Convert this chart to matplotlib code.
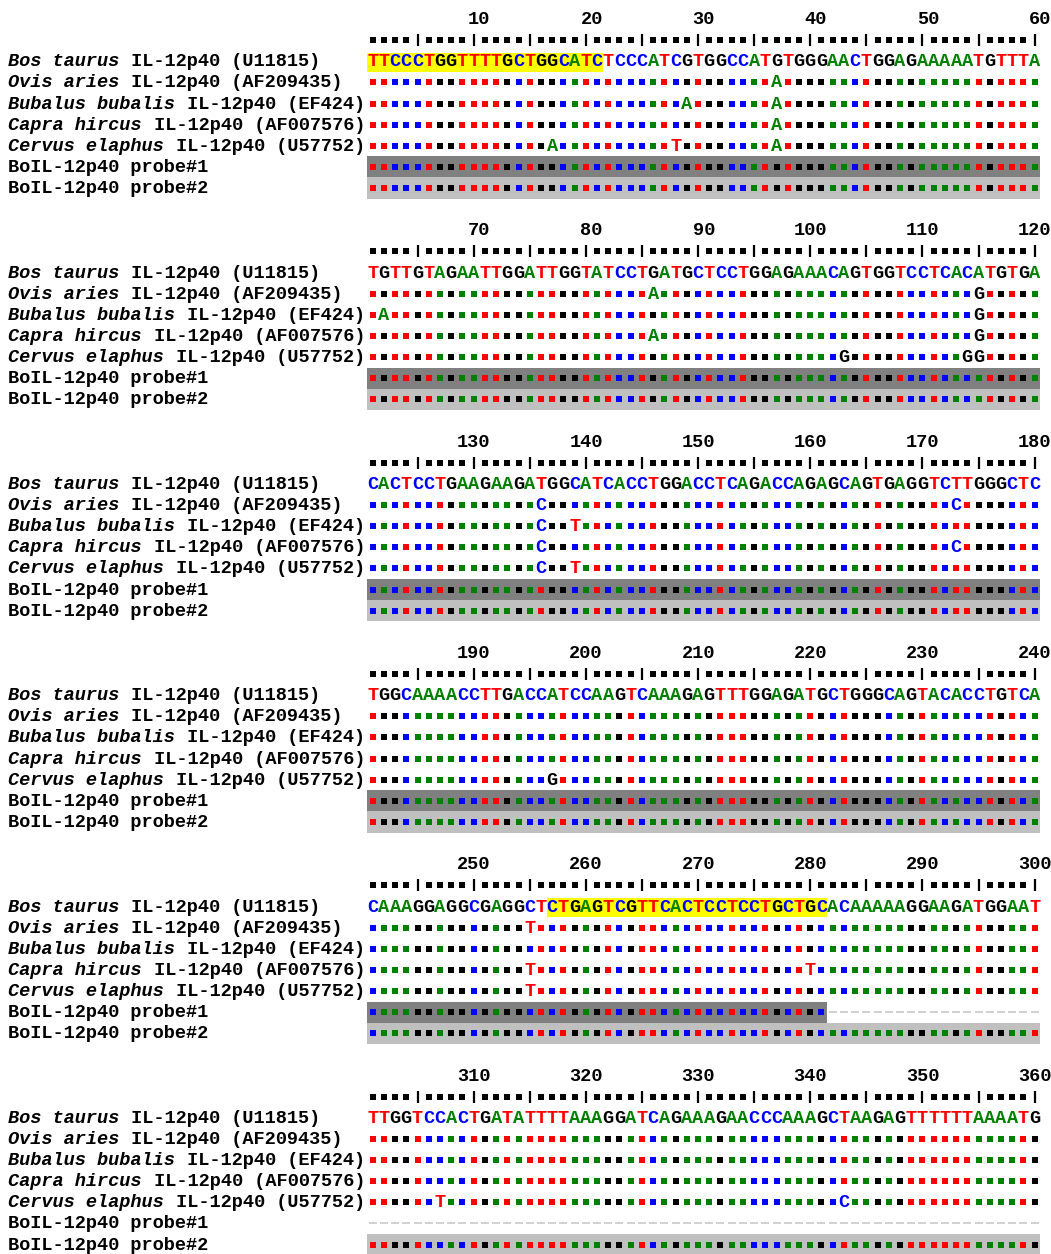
import matplotlib
matplotlib.use('Agg')
import matplotlib.pyplot as plt
from matplotlib.patches import Rectangle

# reference sequence, one string per 60 nt block
BOS_TAURUS = [
    'TTCCCTGGTTTTGCTGGCATCTCCCATCGTGGCCATGTGGGAACTGGAGAAAAATGTTTA',
    'TGTTGTAGAATTGGATTGGTATCCTGATGCTCCTGGAGAAACAGTGGTCCTCACATGTGA',
    'CACTCCTGAAGAAGATGGCATCACCTGGACCTCAGACCAGAGCAGTGAGGTCTTGGGCTC',
    'TGGCAAAACCTTGACCATCCAAGTCAAAGAGTTTGGAGATGCTGGGCAGTACACCTGTCA',
    'CAAAGGAGGCGAGGCTCTGAGTCGTTCACTCCTCCTGCTGCACAAAAAGGAAGATGGAAT',
    'TTGGTCCACTGATATTTTAAAGGATCAGAAAGAACCCAAAGCTAAGAGTTTTTTAAAATG',
]

# differences from Bos taurus (1-based position -> base)
OVIS_DIFF = {37: 'A', 86: 'A', 115: 'G', 136: 'C', 173: 'C', 255: 'T'}
BUBALUS_DIFF = {29: 'A', 37: 'A', 62: 'A', 115: 'G', 136: 'C', 139: 'T'}
CAPRA_DIFF = {37: 'A', 86: 'A', 115: 'G', 136: 'C', 173: 'C', 255: 'T', 280: 'T'}
CERVUS_DIFF = {17: 'A', 28: 'T', 37: 'A', 103: 'G', 114: 'G', 115: 'G',
               136: 'C', 139: 'T', 197: 'G', 255: 'T', 307: 'T', 343: 'C'}

# probe coverage (last covered position) and primer highlights
PROBE1_END = 281
PROBE2_END = 360
HIGHLIGHTS = [(1, 21), (257, 281)]

SPECIES = ['Bos taurus', 'Ovis aries', 'Bubalus bubalis', 'Capra hircus', 'Cervus elaphus']
ACCESSIONS = ['U11815', 'AF209435', 'EF424', 'AF007576', 'U57752']
PROBE_LABELS = ['BoIL-12p40 probe#1', 'BoIL-12p40 probe#2']

BASE_COLORS = {'A': '#008000', 'C': '#0000ff', 'G': '#000000', 'T': '#ff0000'}
FONT = dict(family='Liberation Mono', weight='bold', size=13.46)

CW = 11.22      # px per character column
LH = 21.13      # px per text line
X0, Y0 = 8, 19.0
W, H = 1051, 1254
SEQ_COL = 32
BASE_OFF = 0.24  # baseline below line centre, in lines

fig = plt.figure(figsize=(W / 100, H / 100), dpi=100)
ax = fig.add_axes([0, 0, 1, 1])
ax.set_xlim(-X0 / CW, (W - X0) / CW)
ax.set_ylim((H - Y0) / LH, -Y0 / LH)
ax.axis('off')

squares = {c: ([], []) for c in list(BASE_COLORS.values())}
ticks_x, ticks_y = [], []
dash_x, dash_y = [], []

diffs = [OVIS_DIFF, BUBALUS_DIFF, CAPRA_DIFF, CERVUS_DIFF]


def add_square(x, y, color):
    squares[color][0].append(x)
    squares[color][1].append(y)


def put_char(x, y, ch, color):
    ax.text(x, y + BASE_OFF, ch, color=color, ha='center', va='baseline', zorder=4, **FONT)


for b, seq in enumerate(BOS_TAURUS):
    L = 10 * b
    start = 60 * b

    # ruler numbers and ticks
    for k in range(1, 7):
        c = SEQ_COL + 10 * k - 1
        ax.text(c + 2, L + BASE_OFF, str(start + 10 * k), ha='right', va='baseline',
                color='k', zorder=4, **FONT)
    for i in range(60):
        x = SEQ_COL + i + 0.5
        if (i + 1) % 5 == 0:
            ticks_x.append(x)
            ticks_y.append(L + 1)
        else:
            add_square(x, L + 1, '#000000')

    # labels
    for r, (sp, acc) in enumerate(zip(SPECIES, ACCESSIONS)):
        y = L + 2 + r + BASE_OFF
        ax.text(0, y, sp, ha='left', va='baseline', style='italic', **FONT)
        ax.text(len(sp), y, ' IL-12p40 (%s)' % acc, ha='left', va='baseline', **FONT)
    for r, lab in enumerate(PROBE_LABELS):
        ax.text(0, L + 7 + r + BASE_OFF, lab, ha='left', va='baseline', **FONT)

    # yellow primer highlight on reference row
    for h0, h1 in HIGHLIGHTS:
        a0 = max(h0, start + 1)
        a1 = min(h1, start + 60)
        if a0 <= a1:
            ax.add_patch(Rectangle((SEQ_COL + a0 - start - 1, L + 2 - 0.39), a1 - a0 + 1, 0.91,
                                   facecolor='#ffff00', edgecolor='none', zorder=1))

    # reference row
    for i, base in enumerate(seq):
        put_char(SEQ_COL + i + 0.5, L + 2, base, BASE_COLORS[base])

    # other species
    for r, d in enumerate(diffs):
        y = L + 3 + r
        for i, base in enumerate(seq):
            pos = start + i + 1
            x = SEQ_COL + i + 0.5
            if pos in d:
                put_char(x, y, d[pos], BASE_COLORS[d[pos]])
            else:
                add_square(x, y, BASE_COLORS[base])

    # probes
    for r, (end, bg) in enumerate([(PROBE1_END, '#808080'), (PROBE2_END, '#c0c0c0')]):
        y = L + 7 + r
        ncov = max(0, min(end - start, 60))
        if ncov > 0:
            ax.add_patch(Rectangle((SEQ_COL, y - 0.5), ncov, 1.0, facecolor=bg,
                                   edgecolor='none', zorder=1))
        for i, base in enumerate(seq):
            x = SEQ_COL + i + 0.5
            if i < ncov:
                add_square(x, y, BASE_COLORS[base])
            else:
                dash_x.append(x)
                dash_y.append(y)

for color, (xs, ys) in squares.items():
    ax.scatter(xs, ys, s=14, marker='s', color=color, linewidths=0, zorder=3)
ax.scatter(ticks_x, ticks_y, s=85, marker='|', color='k', linewidths=1.6, zorder=3)
ax.scatter(dash_x, dash_y, s=28, marker='_', color='#c8c8c8', linewidths=1.2, zorder=3)

fig.savefig('out.png', dpi=100)
